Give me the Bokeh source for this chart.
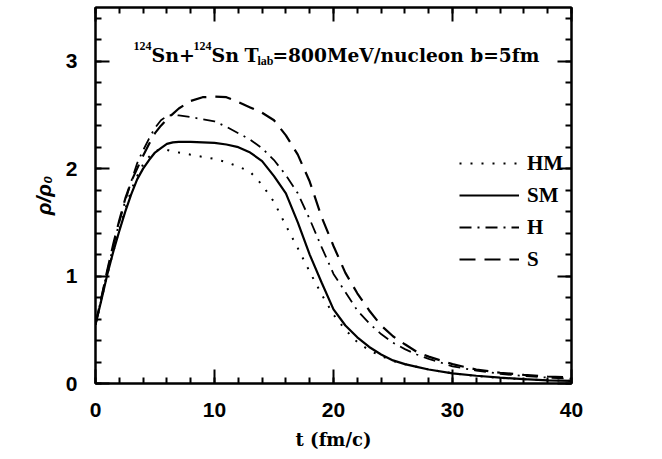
from bokeh.plotting import figure
from bokeh.models import LinearAxis, Range1d, Legend, LegendItem, Label, FixedTicker
from bokeh.embed import file_html
from bokeh.resources import INLINE

# time (fm/c)
t = [0, 0.5, 1, 1.5, 2, 2.5, 3, 3.5, 4, 4.5, 5, 5.5, 6, 6.5, 7, 8, 9, 10, 11, 12, 13, 14,
     15, 16, 17, 18, 19, 20, 21, 22, 23, 24, 25, 26, 27, 28, 30, 32, 34, 36, 38, 40]

hm = [0.55, 0.78, 1.02, 1.23, 1.43, 1.62, 1.80, 1.93, 2.04, 2.11, 2.16, 2.185, 2.175, 2.16, 2.15, 2.13, 2.11, 2.09, 2.06, 2.02, 1.97,
      1.85, 1.69, 1.47, 1.26, 1.04, 0.83, 0.64, 0.50, 0.385, 0.31, 0.255, 0.21, 0.18, 0.155, 0.13, 0.095, 0.07, 0.052, 0.04, 0.03, 0.025]
sm = [0.55, 0.78, 1.02, 1.23, 1.42, 1.60, 1.76, 1.90, 2.00, 2.08, 2.15, 2.19, 2.23, 2.245, 2.25, 2.25, 2.245, 2.24, 2.225, 2.20, 2.15,
      2.07, 1.93, 1.77, 1.50, 1.20, 0.94, 0.69, 0.54, 0.43, 0.34, 0.27, 0.215, 0.18, 0.155, 0.13, 0.095, 0.072, 0.054, 0.04, 0.03, 0.025]
h = [0.55, 0.80, 1.05, 1.28, 1.50, 1.70, 1.88, 2.05, 2.17, 2.28, 2.38, 2.45, 2.49, 2.50, 2.495, 2.48, 2.46, 2.44, 2.39, 2.33, 2.27,
     2.19, 2.08, 1.94, 1.77, 1.53, 1.27, 1.02, 0.85, 0.68, 0.56, 0.46, 0.38, 0.32, 0.27, 0.23, 0.16, 0.12, 0.09, 0.07, 0.055, 0.045]
s = [0.55, 0.80, 1.06, 1.30, 1.52, 1.72, 1.88, 2.00, 2.12, 2.23, 2.33, 2.40, 2.46, 2.51, 2.56, 2.63, 2.665, 2.67, 2.665, 2.62, 2.57,
     2.52, 2.45, 2.31, 2.13, 1.88, 1.55, 1.28, 1.03, 0.84, 0.68, 0.54, 0.44, 0.365, 0.295, 0.25, 0.18, 0.13, 0.10, 0.08, 0.065, 0.055]

series_names = ["HM", "SM", "H", "S"]
x_ticks = [0, 10, 20, 30, 40]
x_minor = list(range(0, 41, 2))
y_ticks = [0, 1, 2, 3]
y_minor = [i * 0.2 for i in range(18)]

SERIF = "Liberation Serif"
WSERIF = "DejaVu Serif"
SANS = "Liberation Sans"

p = figure(width=662, height=459, x_range=Range1d(0, 40), y_range=Range1d(0, 3.5),
           output_backend="svg", toolbar_location=None,
           min_border_left=95, min_border_right=91, min_border_top=7, min_border_bottom=76)
p.xgrid.visible = False
p.ygrid.visible = False
p.outline_line_color = "black"
p.outline_line_width = 2
p.background_fill_color = "white"
p.border_fill_color = "white"

def style_axis(ax, ticks, minor, show_labels):
    ax.ticker = FixedTicker(ticks=ticks, minor_ticks=minor)
    ax.major_tick_in = 14
    ax.major_tick_out = 0
    ax.minor_tick_in = 6
    ax.minor_tick_out = 0
    ax.major_tick_line_width = 2
    ax.minor_tick_line_width = 2
    ax.axis_line_width = 2
    ax.axis_line_color = "black"
    ax.major_tick_line_color = "black"
    ax.minor_tick_line_color = "black"
    if show_labels:
        ax.major_label_text_font = SANS
        ax.major_label_text_font_style = "bold"
        ax.major_label_text_font_size = "21px"
        ax.major_label_text_color = "black"
    else:
        ax.major_label_overrides = {v: "" for v in ticks}
        ax.major_label_standoff = 0

style_axis(p.xaxis[0], x_ticks, x_minor, True)
style_axis(p.yaxis[0], y_ticks, y_minor, True)
p.xaxis[0].major_label_standoff = 19
p.yaxis[0].major_label_standoff = 18

p.xaxis[0].axis_label = "t (fm/c)"
p.xaxis[0].axis_label_text_font = WSERIF
p.xaxis[0].axis_label_text_font_style = "bold"
p.xaxis[0].axis_label_text_font_size = "18px"
p.xaxis[0].axis_label_text_color = "black"
p.xaxis[0].axis_label_standoff = 9
p.yaxis[0].axis_label = "ρ/ρ₀"
p.yaxis[0].axis_label_text_font = SANS
p.yaxis[0].axis_label_text_font_style = "bold italic"
p.yaxis[0].axis_label_text_font_size = "21px"
p.yaxis[0].axis_label_text_color = "black"
p.yaxis[0].axis_label_standoff = 8

top = LinearAxis()
right = LinearAxis()
style_axis(top, x_ticks, x_minor, False)
style_axis(right, y_ticks, y_minor, False)
p.add_layout(top, "above")
p.add_layout(right, "right")

r_hm = p.line(t, hm, line_color="black", line_width=2, line_dash="2 9")
r_sm = p.line(t, sm, line_color="black", line_width=2.2)
r_h = p.line(t, h, line_color="black", line_width=1.8, line_dash="12 6 2 6")
r_s = p.line(t, s, line_color="black", line_width=2.2, line_dash="16 9")

legend = Legend(items=[LegendItem(label=series_names[0], renderers=[r_hm]),
                       LegendItem(label=series_names[1], renderers=[r_sm]),
                       LegendItem(label=series_names[2], renderers=[r_h]),
                       LegendItem(label=series_names[3], renderers=[r_s])],
                location=(364, 108), glyph_width=60, glyph_height=32, label_height=32,
                spacing=0, padding=0, margin=0, border_line_color=None,
                background_fill_alpha=0, label_standoff=8, label_text_color="black",
                label_text_font=SERIF, label_text_font_style="bold", label_text_font_size="21px")
p.add_layout(legend)

def px2x(px):
    return (px - 95) / 11.9

def py2y(py):
    return (383 - py) / 107.4

title_parts = [
    ("124", 133, 46, "12px", SERIF),
    ("Sn+", 151, 55, "19px", WSERIF),
    ("124", 193, 46, "12px", SERIF),
    ("Sn", 211, 55, "19px", WSERIF),
    ("T", 244, 55, "19px", WSERIF),
    ("lab", 257, 61, "12px", SERIF),
    ("=800MeV/nucleon b=5fm", 272, 55, "18.6px", WSERIF),
]
for txt, px, py, fs, fnt in title_parts:
    p.add_layout(Label(x=px2x(px), y=py2y(py), text=txt, text_font=fnt,
                       text_font_style="bold", text_font_size=fs,
                       text_baseline="alphabetic", text_align="left", text_color="black"))

open("out.html", "w").write(file_html(p, INLINE))
